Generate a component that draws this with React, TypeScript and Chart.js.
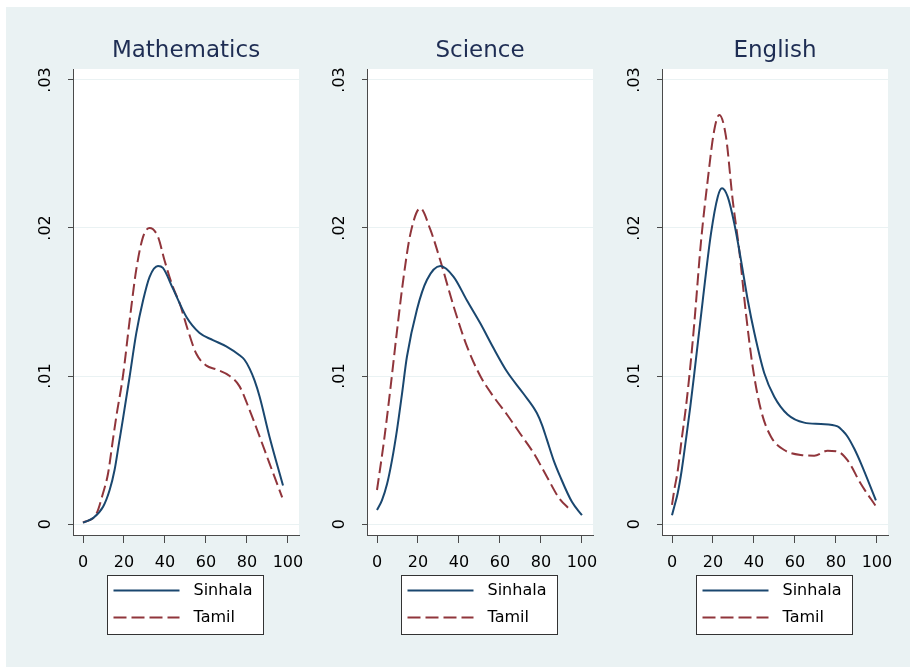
import React, { useEffect, useRef } from "react";
import { Chart, registerables } from "chart.js";

Chart.register(...registerables);

// ---------- data ----------
const panelTitles = ["Mathematics", "Science", "English"];
const seriesNames = ["Sinhala", "Tamil"];
const xTickValues = [0, 20, 40, 60, 80, 100];
const yTickValues = [0, 0.01, 0.02, 0.03];

const mathSinhalaX = [0, 4.9, 9.8, 13, 15.4, 17.6, 19.5, 22.8, 26, 29.3, 32.5, 36.6, 39, 43.9, 50.4, 56.9, 63.4, 69.9, 76.4, 78.8, 81.3, 83.7, 86.2, 91, 97.6];
const mathSinhalaY = [0.0001, 0.0004, 0.00117, 0.0023, 0.00365, 0.0055, 0.0071, 0.01, 0.0129, 0.0151, 0.0167, 0.01743, 0.0173, 0.0159, 0.014, 0.0129, 0.01243, 0.012, 0.0114, 0.0111, 0.0105, 0.0097, 0.0086, 0.0059, 0.0026];
const mathTamilX = [0, 6.5, 9.8, 12.2, 14.6, 16.3, 19.5, 22.8, 26, 29.3, 32.5, 36.6, 39.8, 43.9, 47.2, 51.2, 55.3, 60.2, 65, 71.6, 76.4, 81.3, 86.2, 91, 97.2];
const mathTamilY = [0.0001, 0.00068, 0.0021, 0.0034, 0.0057, 0.0073, 0.01, 0.0138, 0.0172, 0.0194, 0.02, 0.0194, 0.0178, 0.016, 0.0149, 0.0131, 0.0115, 0.0107, 0.01045, 0.01, 0.0093, 0.0077, 0.0059, 0.0041, 0.0018];

const sciSinhalaX = [0, 2.4, 4.9, 7.3, 9.8, 12.2, 14.6, 19.5, 24.4, 30.9, 37.4, 43.9, 50.4, 56.9, 63.4, 71.5, 78, 80.5, 82.9, 86.2, 89.4, 95.1, 100];
const sciSinhalaY = [0.00095, 0.0016, 0.0027, 0.0043, 0.0064, 0.0088, 0.0113, 0.0145, 0.0165, 0.01743, 0.0167, 0.0151, 0.01356, 0.01187, 0.0103, 0.0088, 0.0075, 0.0067, 0.0057, 0.0043, 0.0032, 0.0015, 0.0006];
const sciTamilX = [0, 3.3, 6.5, 9.8, 13, 16.3, 21.1, 26, 30.9, 37.4, 43.9, 50.4, 56.9, 63.4, 69.9, 76.4, 82.9, 88.6, 94.3];
const sciTamilY = [0.0023, 0.0055, 0.0091, 0.0131, 0.0167, 0.0196, 0.02133, 0.0199, 0.0178, 0.0147, 0.012, 0.01, 0.0086, 0.0074, 0.0061, 0.0048, 0.0032, 0.0018, 0.00095];

const engSinhalaX = [0, 1.1, 2.8, 4.7, 6.8, 8.9, 10.9, 15, 19, 22.3, 24.4, 27.2, 30.4, 33.7, 37, 40.2, 45, 49.9, 56.4, 64.5, 72.7, 80.8, 83.3, 85.7, 88.9, 92.2, 99.5];
const engSinhalaY = [0.0006, 0.00117, 0.0021, 0.0036, 0.0057, 0.0079, 0.0102, 0.0151, 0.0196, 0.0221, 0.02268, 0.0221, 0.0203, 0.0178, 0.0151, 0.0129, 0.0102, 0.0086, 0.0074, 0.00685, 0.00676, 0.0066, 0.0063, 0.0059, 0.0051, 0.0041, 0.0016];
const engTamilX = [0, 1.1, 2.8, 4.7, 6.8, 8.9, 10.9, 14.1, 17.4, 20.6, 23.1, 26.3, 29.6, 32.8, 36.1, 39.4, 43.4, 48.3, 54.8, 62.9, 69.4, 75.9, 80.8, 85.7, 92.2, 99.5];
const engTamilY = [0.0013, 0.0023, 0.0036, 0.0057, 0.0079, 0.0106, 0.0136, 0.019, 0.0232, 0.0266, 0.02764, 0.0262, 0.0219, 0.0185, 0.0142, 0.0106, 0.0077, 0.0059, 0.005, 0.00466, 0.00462, 0.00495, 0.0049, 0.0043, 0.0027, 0.0012];

const panelSeries = [
  [[mathSinhalaX, mathSinhalaY], [mathTamilX, mathTamilY]],
  [[sciSinhalaX, sciSinhalaY], [sciTamilX, sciTamilY]],
  [[engSinhalaX, engSinhalaY], [engTamilX, engTamilY]],
];

// ---------- style ----------
const FONT = "'DejaVu Sans', Verdana, sans-serif";
const NAVY = "#1a476f";
const MAROON = "#90353b";
const BG = "#eaf2f3";
const AXIS = "#4a4a4a";
const TITLE_COLOR = "#1e2d53";
const CANVAS_W = 320;
const CANVAS_H = 667;
const PLOT_LEFT = 73;
const PLOT_RIGHT = 299;
const PLOT_TOP = 69;
const PLOT_BOTTOM = 535;
const panelLefts = [0, 294, 589];

const panelPlugin = {
  id: "panelDecor",
  beforeDraw(chart: any) {
    const { ctx, chartArea } = chart;
    ctx.save();
    ctx.fillStyle = "#ffffff";
    ctx.fillRect(chartArea.left, chartArea.top, chartArea.right - chartArea.left, chartArea.bottom - chartArea.top);
    ctx.restore();
  },
  afterDraw(chart: any) {
    const { ctx, chartArea } = chart;
    const cx = (chartArea.left + chartArea.right) / 2;
    const title = chart.options.plugins.panelDecor.title;
    ctx.save();
    // title
    ctx.font = `23px ${FONT}`;
    ctx.fillStyle = TITLE_COLOR;
    ctx.textAlign = "center";
    ctx.textBaseline = "alphabetic";
    ctx.fillText(title, cx, 57);
    // legend box
    const bw = 156, bh = 59;
    const bx = Math.round(cx - bw / 2) - 0.5;
    const by = chartArea.bottom + 40 + 0.5;
    ctx.fillStyle = "#ffffff";
    ctx.fillRect(bx, by, bw, bh);
    ctx.strokeStyle = "#333333";
    ctx.lineWidth = 1;
    ctx.strokeRect(bx, by, bw, bh);
    chart.data.datasets.forEach((ds: any, i: number) => {
      const ly = by + 15 + i * 27;
      ctx.beginPath();
      ctx.strokeStyle = ds.borderColor;
      ctx.lineWidth = 2;
      ctx.setLineDash(ds.borderDash && ds.borderDash.length ? [13, 5] : []);
      ctx.moveTo(bx + 6, ly);
      ctx.lineTo(bx + 72, ly);
      ctx.stroke();
      ctx.setLineDash([]);
      ctx.font = `16px ${FONT}`;
      ctx.fillStyle = "#000000";
      ctx.textAlign = "left";
      ctx.textBaseline = "middle";
      ctx.fillText(ds.label, bx + 86, ly);
    });
    ctx.restore();
  },
};

function fmtY(v: number) {
  if (v === 0) return "0";
  return v.toFixed(2).replace(/^0/, "");
}

function Panel({ index }: { index: number }) {
  const ref = useRef<HTMLCanvasElement>(null);
  useEffect(() => {
    if (!ref.current) return;
    const series = panelSeries[index];
    const chart = new Chart(ref.current, {
      type: "line",
      data: {
        datasets: series.map(([xs, ys], si) => ({
          label: seriesNames[si],
          data: xs.map((x, i) => ({ x, y: ys[i] })),
          borderColor: si === 0 ? NAVY : MAROON,
          borderWidth: 2,
          borderDash: si === 0 ? [] : [12, 5],
          pointRadius: 0,
          fill: false,
          cubicInterpolationMode: "monotone",
        })),
      },
      options: {
        animation: false,
        responsive: false,
        layout: {
          padding: {
            left: PLOT_LEFT - 40,
            top: PLOT_TOP,
            right: CANVAS_W - PLOT_RIGHT,
            bottom: CANVAS_H - PLOT_BOTTOM - 40,
          },
        },
        plugins: {
          legend: { display: false },
          tooltip: { enabled: false },
          title: { display: false },
          panelDecor: { title: panelTitles[index] },
        } as any,
        scales: {
          x: {
            type: "linear",
            min: -4.88,
            max: 105.4,
            afterBuildTicks: (s: any) => {
              s.ticks = xTickValues.map((v) => ({ value: v }));
            },
            afterFit: (s: any) => {
              s.height = 40;
            },
            grid: { drawOnChartArea: false, tickLength: 8, tickColor: AXIS, tickWidth: 1 },
            border: { display: true, color: AXIS, width: 1 },
            ticks: {
              font: { family: FONT, size: 16 },
              color: "#000000",
              padding: 10,
              maxRotation: 0,
              minRotation: 0,
              autoSkip: false,
            },
          },
          y: {
            type: "linear",
            min: -0.00074,
            max: 0.03074,
            afterBuildTicks: (s: any) => {
              s.ticks = yTickValues.map((v) => ({ value: v }));
            },
            afterFit: (s: any) => {
              s.width = 40;
            },
            grid: { color: BG, lineWidth: 1, tickLength: 5, tickColor: AXIS, tickWidth: 1 },
            border: { display: true, color: AXIS, width: 1 },
            ticks: {
              font: { family: FONT, size: 16 },
              color: "#000000",
              padding: 9,
              minRotation: 90,
              maxRotation: 90,
              crossAlign: "center",
              autoSkip: false,
              callback: (v: any) => fmtY(Number(v)),
            },
          },
        },
      } as any,
      plugins: [panelPlugin],
    });
    return () => chart.destroy();
  }, [index]);
  return (
    <canvas
      ref={ref}
      width={CANVAS_W}
      height={CANVAS_H}
      style={{ position: "absolute", left: panelLefts[index], top: 0, width: CANVAS_W, height: CANVAS_H }}
    />
  );
}

export default function App() {
  return (
    <div style={{ position: "fixed", left: 0, top: 0, width: 910, height: 667, background: "#ffffff", overflow: "hidden" }}>
      <div style={{ position: "absolute", left: 6, top: 7, width: 904, height: 660, background: BG }} />
      {panelTitles.map((_, i) => (
        <Panel key={i} index={i} />
      ))}
    </div>
  );
}
